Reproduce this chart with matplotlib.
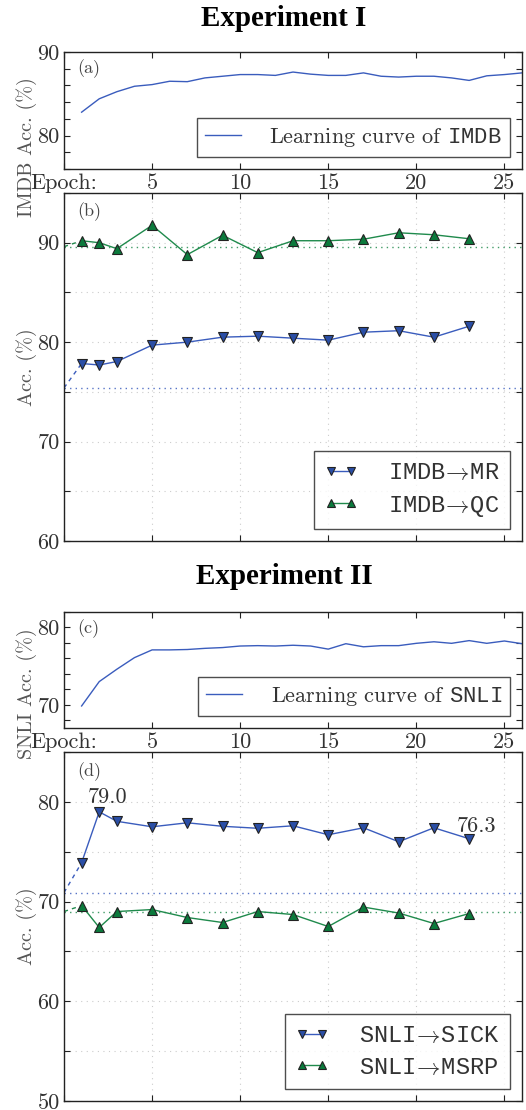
import numpy as np
import matplotlib
matplotlib.use("Agg")
import matplotlib.pyplot as plt
from matplotlib.ticker import MultipleLocator, FixedLocator, FixedFormatter

plt.rcParams["font.family"] = "serif"
plt.rcParams["font.serif"] = ["cmr10"]
plt.rcParams["mathtext.fontset"] = "custom"
plt.rcParams["mathtext.rm"] = "cmr10"
plt.rcParams["mathtext.tt"] = "Liberation Mono"
plt.rcParams["mathtext.fallback"] = "cm"
plt.rcParams["axes.formatter.use_mathtext"] = False
plt.rcParams["axes.unicode_minus"] = False

# learning curves (every epoch)
curve_epochs = list(range(1, 27))
imdb_curve = [82.8, 84.4, 85.25, 85.9, 86.1, 86.5, 86.45, 86.9, 87.1, 87.3, 87.3, 87.2, 87.6,
              87.35, 87.2, 87.2, 87.5, 87.1, 87.0, 87.1, 87.1, 86.9, 86.6, 87.15, 87.3, 87.5]
snli_curve = [69.85, 73.0, 74.6, 76.1, 77.1, 77.1, 77.15, 77.3, 77.4, 77.6, 77.65, 77.6, 77.7,
              77.6, 77.2, 77.9, 77.5, 77.65, 77.65, 77.95, 78.15, 77.95, 78.3, 77.95, 78.25, 77.9]

# transfer results
transfer_epochs = [1, 2, 3, 5, 7, 9, 11, 13, 15, 17, 19, 21, 23]
mr_acc = [77.85, 77.7, 78.05, 79.7, 80.0, 80.5, 80.6, 80.4, 80.2, 81.0, 81.15, 80.5, 81.6]
qc_acc = [90.2, 90.0, 89.4, 91.75, 88.8, 90.75, 89.0, 90.2, 90.2, 90.35, 91.0, 90.8, 90.4]
mr_base = 75.4
qc_base = 89.6
sick_acc = [73.9, 79.0, 78.05, 77.5, 77.9, 77.55, 77.35, 77.6, 76.7, 77.4, 76.0, 77.4, 76.3]
msrp_acc = [69.6, 67.4, 69.0, 69.2, 68.4, 67.9, 69.0, 68.7, 67.5, 69.45, 68.85, 67.8, 68.8]
sick_base = 70.9
msrp_base = 69.0

xtick_vals = [0, 5, 10, 15, 20, 25]
xtick_text = ["Epoch:", "5", "10", "15", "20", "25"]

BLUE_LINE = "#3a5cbd"
BLUE_FACE = "#2a4ea6"
GREEN_LINE = "#1f8a4c"
GREEN_FACE = "#0b7a3c"
TXT = "#333333"
LAB = "#555555"
FS = 16

W, H = 526, 1110
fig = plt.figure(figsize=(W / 100, H / 100), dpi=100)


def ax_at(top, bottom, left=64, right=522):
    return fig.add_axes([left / W, 1 - bottom / H, (right - left) / W, (bottom - top) / H])


def style(ax, ylo, yhi, major, minor, xlabels):
    ax.set_xlim(0, 26)
    ax.set_ylim(ylo, yhi)
    ax.xaxis.set_major_locator(FixedLocator(xtick_vals))
    if xlabels:
        ax.xaxis.set_major_formatter(FixedFormatter(xtick_text))
    else:
        ax.set_xticklabels([])
    ax.yaxis.set_major_locator(MultipleLocator(major))
    ax.yaxis.set_minor_locator(MultipleLocator(minor))
    ax.tick_params(which="both", direction="in", top=True, right=True, length=4,
                   width=0.8, colors="#222222", labelcolor=TXT, labelsize=FS, pad=3)
    for s in ax.spines.values():
        s.set_color("#222222")
        s.set_linewidth(1.0)


def finish_legend(leg):
    leg.get_frame().set_edgecolor("#222222")
    leg.get_frame().set_linewidth(1.0)
    for t in leg.get_texts():
        t.set_color(TXT)


def curve_panel(ax, vals, ylo, yhi, label, tag, ylabel, ylab_y):
    ax.plot(curve_epochs, vals, color=BLUE_LINE, lw=1.0, label=label)
    style(ax, ylo, yhi, 10, 2, True)
    ax.text(0.028, 0.857, tag, transform=ax.transAxes, fontsize=13, color="#444444", va="center")
    ax.set_ylabel(ylabel, fontsize=14.5, color=LAB)
    ax.yaxis.set_label_coords(-0.06, ylab_y)
    leg = ax.legend(loc="lower right", fontsize=FS, frameon=True, fancybox=False,
                    handlelength=1.6, handletextpad=1.3, borderaxespad=0.55, borderpad=0.35)
    finish_legend(leg)


def transfer_panel(ax, a, a_base, b, b_base, la, lb, ylo, yhi, tag):
    for vals, base, col, face, mk, lab in [(a, a_base, BLUE_LINE, BLUE_FACE, "v", la),
                                          (b, b_base, GREEN_LINE, GREEN_FACE, "^", lb)]:
        ax.axhline(base, color=col, lw=1.0, ls=(0, (1, 3)), alpha=0.85)
        ax.plot([0, transfer_epochs[0]], [base, vals[0]], color=col, lw=1.0, ls=(0, (3, 3)))
        ax.plot(transfer_epochs, vals, color=col, lw=1.0, marker=mk, markersize=7.5,
                markerfacecolor=face, markeredgecolor="#222222", markeredgewidth=0.8, label=lab)
    style(ax, ylo, yhi, 10, 5, False)
    ax.grid(True, which="both", color="#cccccc", lw=0.8, ls=(0, (1, 4)))
    ax.set_axisbelow(True)
    ax.text(0.028, 0.945, tag, transform=ax.transAxes, fontsize=13, color="#444444", va="center")
    ax.set_ylabel("Acc. (%)", fontsize=14.5, color=LAB)
    ax.yaxis.set_label_coords(-0.06, 0.5)
    leg = ax.legend(loc="lower right", fontsize=17, frameon=True, fancybox=False, numpoints=2,
                    handlelength=1.45, handletextpad=1.25, borderaxespad=0.5, borderpad=0.45,
                    labelspacing=0.4, markerscale=0.85)
    finish_legend(leg)


ax_a = ax_at(52, 169)
ax_b = ax_at(193, 541)
ax_c = ax_at(612, 728)
ax_d = ax_at(752, 1101)

curve_panel(ax_a, imdb_curve, 76, 90, r"Learning curve of $\mathtt{IMDB}$", "(a)",
            "IMDB Acc. (%)", 0.19)
transfer_panel(ax_b, mr_acc, mr_base, qc_acc, qc_base,
               r"$\mathtt{IMDB}\!\rightarrow\!\mathtt{MR}$", r"$\mathtt{IMDB}\!\rightarrow\!\mathtt{QC}$",
               60, 95, "(b)")
curve_panel(ax_c, snli_curve, 67, 82, r"Learning curve of $\mathtt{SNLI}$", "(c)",
            "SNLI Acc. (%)", 0.30)
transfer_panel(ax_d, sick_acc, sick_base, msrp_acc, msrp_base,
               r"$\mathtt{SNLI}\!\rightarrow\!\mathtt{SICK}$", r"$\mathtt{SNLI}\!\rightarrow\!\mathtt{MSRP}$",
               50, 85, "(d)")

ax_d.annotate("%.1f" % sick_acc[1], (transfer_epochs[1], sick_acc[1]), xytext=(6, 6),
              textcoords="offset points", ha="center", va="baseline", fontsize=FS, color=TXT)
ax_d.annotate("%.1f" % sick_acc[-1], (transfer_epochs[-1], sick_acc[-1]), xytext=(5, 5),
              textcoords="offset points", ha="center", va="baseline", fontsize=FS, color=TXT)

fig.text(284 / W, 1 - 18 / H, "Experiment I", ha="center", va="center",
         family="Liberation Serif", weight="bold", fontsize=21)
fig.text(284 / W, 1 - 577 / H, "Experiment II", ha="center", va="center",
         family="Liberation Serif", weight="bold", fontsize=21)

fig.savefig("out.png", dpi=100)
